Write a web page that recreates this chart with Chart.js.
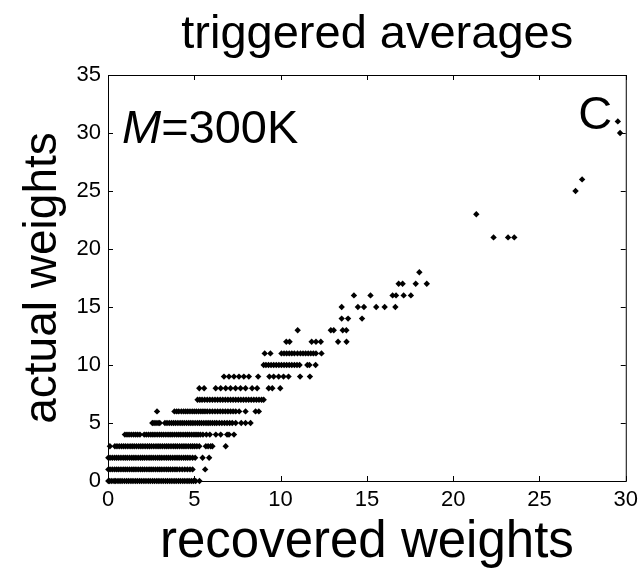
<!DOCTYPE html>
<html>
<head>
<meta charset="utf-8">
<script src="https://cdn.jsdelivr.net/npm/chart.js@4/dist/chart.umd.min.js"></script>
<style>
  html, body { margin: 0; padding: 0; background: #fff; }
  #wrap { width: 644px; height: 574px; }
</style>
</head>
<body>
<div id="wrap"><canvas id="scatter_weights" width="644" height="574"></canvas></div>
<script>
var actualLevels = [0, 1, 2, 3, 4, 5, 6, 7, 8, 9, 10, 11, 12, 13, 14, 15, 16, 17, 18, 21, 23, 25, 26, 30, 31];
var recoveredAtLevel = [
    [0.02, 0.1, 0.22, 0.35, 0.45, 0.58, 0.7, 0.82, 0.95, 1.08, 1.2, 1.33, 1.45, 1.58, 1.7, 1.83, 1.95, 2.08, 2.2, 2.33, 2.45, 2.58, 2.7, 2.83, 2.95, 3.08, 3.2, 3.33, 3.45, 3.58, 3.7, 3.83, 3.95, 4.08, 4.2, 4.33, 4.45, 4.58, 4.7, 4.83, 4.95, 5.08, 5.3],
    [0.02, 0.12, 0.25, 0.38, 0.5, 0.62, 0.75, 0.88, 1.0, 1.12, 1.25, 1.38, 1.5, 1.62, 1.75, 1.88, 2.0, 2.12, 2.25, 2.38, 2.5, 2.62, 2.75, 2.88, 3.0, 3.12, 3.25, 3.38, 3.5, 3.62, 3.75, 3.88, 4.0, 4.15, 4.3, 4.45, 4.6, 4.75, 4.9, 5.63],
    [0.02, 0.12, 0.25, 0.38, 0.5, 0.62, 0.75, 0.88, 1.0, 1.12, 1.25, 1.38, 1.5, 1.62, 1.75, 1.88, 2.0, 2.12, 2.25, 2.38, 2.5, 2.62, 2.75, 2.88, 3.0, 3.12, 3.25, 3.38, 3.5, 3.62, 3.75, 3.88, 4.0, 4.12, 4.25, 4.38, 4.5, 4.62, 4.75, 4.9, 5.05, 5.48, 5.86],
    [0.11, 0.4, 0.52, 0.65, 0.78, 0.9, 1.02, 1.15, 1.28, 1.4, 1.52, 1.65, 1.78, 1.9, 2.02, 2.15, 2.28, 2.4, 2.52, 2.65, 2.78, 2.9, 3.02, 3.15, 3.28, 3.4, 3.52, 3.65, 3.78, 3.9, 4.02, 4.15, 4.28, 4.4, 4.52, 4.65, 4.78, 4.9, 5.02, 5.15, 5.29, 5.67, 5.8, 5.95, 6.05, 6.82],
    [0.98, 1.1, 1.22, 1.35, 1.48, 1.6, 1.72, 1.85, 2.1, 2.22, 2.35, 2.48, 2.6, 2.72, 2.85, 2.98, 3.1, 3.22, 3.35, 3.48, 3.6, 3.72, 3.85, 3.98, 4.1, 4.22, 4.35, 4.48, 4.6, 4.72, 4.85, 4.98, 5.1, 5.22, 5.35, 5.5, 5.7, 5.9, 6.25, 6.53, 6.9, 7.01, 7.3],
    [2.57, 2.67, 2.78, 2.9, 3.0, 3.3, 3.42, 3.55, 3.68, 3.8, 3.92, 4.05, 4.18, 4.3, 4.42, 4.55, 4.68, 4.8, 4.92, 5.05, 5.18, 5.3, 5.42, 5.55, 5.68, 5.8, 5.92, 6.05, 6.18, 6.3, 6.45, 6.6, 6.75, 6.9, 7.05, 7.2, 7.4, 7.72, 7.97, 8.26],
    [2.84, 3.85, 3.98, 4.1, 4.25, 4.38, 4.5, 4.62, 4.75, 4.88, 5.0, 5.12, 5.25, 5.38, 5.5, 5.62, 5.75, 5.9, 6.05, 6.2, 6.35, 6.5, 6.65, 6.8, 6.95, 7.1, 7.25, 7.4, 7.6, 7.97, 8.55, 8.74],
    [5.19, 5.32, 5.45, 5.6, 5.75, 5.9, 6.05, 6.2, 6.35, 6.5, 6.65, 6.8, 6.95, 7.1, 7.25, 7.4, 7.55, 7.7, 7.85, 8.0, 8.15, 8.3, 8.45, 8.6, 8.75, 8.9, 9.02],
    [5.29, 5.57, 6.24, 6.53, 6.82, 7.1, 7.39, 7.68, 7.97, 8.35, 8.64, 9.31, 9.52, 9.98],
    [6.72, 7.01, 7.3, 7.59, 7.87, 8.16, 8.7, 9.35, 9.6, 9.89, 10.17, 10.46, 11.13, 11.7],
    [9.02, 9.15, 9.3, 9.45, 9.6, 9.75, 9.9, 10.05, 10.2, 10.35, 10.5, 10.65, 10.8, 10.95, 11.1, 11.55, 11.67, 12.03],
    [9.08, 9.41, 10.05, 10.2, 10.35, 10.5, 10.65, 10.8, 10.98, 11.15, 11.3, 11.45, 11.6, 11.75, 11.9, 12.05, 12.37],
    [10.33, 10.52, 11.8, 12.05, 12.33, 13.33, 13.82],
    [10.99, 12.91, 13.08, 13.6, 13.81],
    [13.54, 13.91, 14.72],
    [13.54, 14.48, 14.83, 15.54, 16.03, 16.65],
    [14.25, 15.21, 16.49, 16.69, 17.13, 17.55],
    [16.84, 17.07, 17.83, 18.47],
    [18.04],
    [22.34, 23.18, 23.54],
    [21.34],
    [27.09],
    [27.47],
    [29.67],
    [29.54]
];
var xTicks = [0, 5, 10, 15, 20, 25, 30];
var yTicks = [0, 5, 10, 15, 20, 25, 30, 35];

var points = [];
actualLevels.forEach(function (a, i) {
    recoveredAtLevel[i].forEach(function (r) { points.push({ x: r, y: a }); });
});

var FONT = "'Liberation Sans', Arial, Helvetica, sans-serif";

// box around the axes, with MATLAB-style inward ticks, plus title and the two labels in the plot
var matlabBox = {
    id: 'matlabBox',
    afterDraw: function (chart) {
        var ctx = chart.ctx, a = chart.chartArea;
        var xs = chart.scales.x, ys = chart.scales.y;
        ctx.save();
        ctx.strokeStyle = '#000';
        ctx.lineWidth = 1;
        ctx.strokeRect(a.left + 0.5, a.top + 0.5, a.right - a.left, a.bottom - a.top);
        ctx.beginPath();
        xTicks.forEach(function (v) {
            var px = Math.round(xs.getPixelForValue(v)) + 0.5;
            ctx.moveTo(px, a.bottom); ctx.lineTo(px, a.bottom - 5);
            ctx.moveTo(px, a.top); ctx.lineTo(px, a.top + 5);
        });
        yTicks.forEach(function (v) {
            var py = Math.round(ys.getPixelForValue(v)) + 0.5;
            ctx.moveTo(a.left, py); ctx.lineTo(a.left + 5, py);
            ctx.moveTo(a.right, py); ctx.lineTo(a.right - 5, py);
        });
        ctx.stroke();

        ctx.fillStyle = '#000';
        ctx.textBaseline = 'alphabetic';
        var w = a.right - a.left, h = a.bottom - a.top;

        ctx.textAlign = 'center';
        ctx.font = '47px ' + FONT;
        ctx.fillText('triggered averages', a.left + 0.52 * w, a.top - 27);

        ctx.textAlign = 'left';
        var tx = a.left + 0.027 * w, ty = a.top + 0.168 * h;
        ctx.font = 'italic 47px ' + FONT;
        ctx.fillText('M', tx, ty);
        var mw = ctx.measureText('M').width;
        ctx.font = '47px ' + FONT;
        ctx.fillText('=300K', tx + mw, ty);
        ctx.fillText('C', a.left + 0.908 * w, a.top + 0.133 * h);
        ctx.restore();
    }
};

var ctx = document.getElementById('scatter_weights').getContext('2d');
var weightsChart = new Chart(ctx, {
    type: 'scatter',
    data: {
        datasets: [{
            label: 'weights',
            data: points,
            pointStyle: 'rectRot',
            radius: 3.2,
            hoverRadius: 3.2,
            backgroundColor: '#000',
            borderColor: '#000',
            borderWidth: 0,
            clip: false
        }]
    },
    options: {
        responsive: false,
        animation: false,
        events: [],
        layout: { padding: { top: 75, right: 14, bottom: 0, left: 0 } },
        plugins: {
            legend: { display: false },
            tooltip: { enabled: false },
            title: { display: false }
        },
        scales: {
            x: {
                type: 'linear',
                min: 0, max: 30,
                afterFit: function (s) { s.height = 93; },
                afterBuildTicks: function (s) { s.ticks = xTicks.map(function (v) { return { value: v }; }); },
                grid: { display: false, drawTicks: false },
                border: { display: false },
                ticks: { color: '#000', padding: 6, font: { family: FONT, size: 22 } },
                title: {
                    display: true,
                    text: 'recovered weights',
                    color: '#000',
                    font: { family: FONT, size: 51 },
                    padding: { top: 0, bottom: 0 }
                }
            },
            y: {
                type: 'linear',
                min: 0, max: 35,
                afterFit: function (s) { s.width = 108; },
                afterBuildTicks: function (s) { s.ticks = yTicks.map(function (v) { return { value: v }; }); },
                grid: { display: false, drawTicks: false },
                border: { display: false },
                ticks: { color: '#000', padding: 7, font: { family: FONT, size: 22 } },
                title: {
                    display: true,
                    text: 'actual weights',
                    color: '#000',
                    font: { family: FONT, size: 46 },
                    padding: { top: 16, bottom: 0 }
                }
            }
        }
    },
    plugins: [matlabBox]
});
</script>
</body>
</html>
